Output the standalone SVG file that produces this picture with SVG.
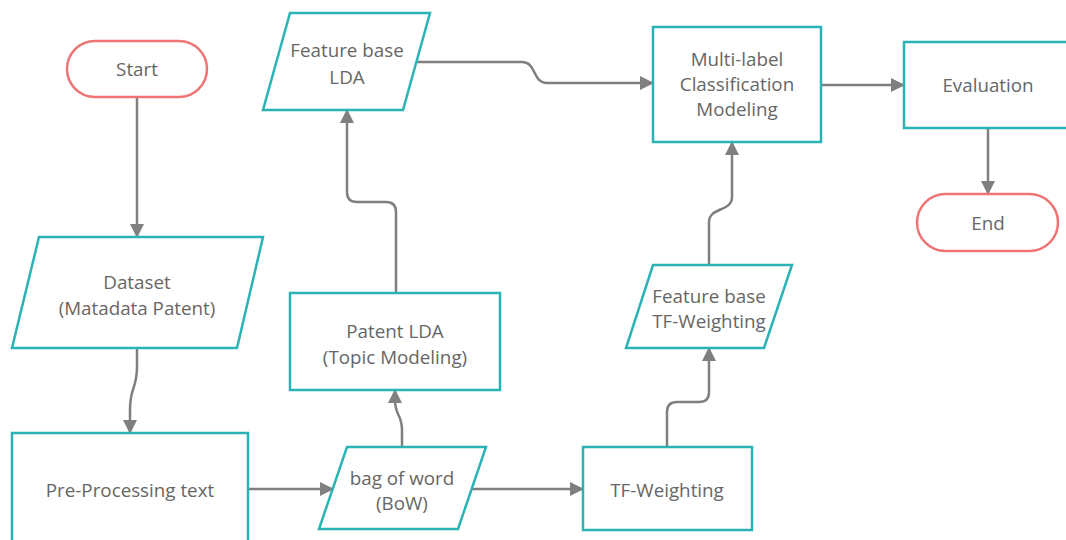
<svg xmlns="http://www.w3.org/2000/svg" width="1066" height="540" viewBox="0 0 1066 540">
<defs>
<style>
.box{fill:#fff;stroke:#2ab3b5;stroke-width:2.5}
.pill{fill:#fff;stroke:#ef7474;stroke-width:2.5}
.t{font-family:"Open Sans","Liberation Sans",sans-serif;font-size:18.8px;fill:#666;text-anchor:middle;dominant-baseline:central}
.c{fill:none;stroke:#7f7f7f;stroke-width:2.5}
</style>
<marker id="ah" markerUnits="userSpaceOnUse" markerWidth="14" markerHeight="14" refX="13" refY="7" orient="auto">
<path d="M0,0 L14,7 L0,14 z" fill="#7f7f7f"/>
</marker>
</defs>
<rect width="1066" height="540" fill="#fff"/>
<g id="connectors">
<path class="c" d="M137,97 V237" marker-end="url(#ah)"/>
<path class="c" d="M137,348 V366 C137,390 130,386 130,410 V433" marker-end="url(#ah)"/>
<path class="c" d="M248,489 H333" marker-end="url(#ah)"/>
<path class="c" d="M472,489 H583" marker-end="url(#ah)"/>
<path class="c" d="M402,447 V430 C402,414 395,416 395,400 V390" marker-end="url(#ah)"/>
<path class="c" d="M396,293 V212 Q396,202 386,202 H357 Q347,202 347,192 V110" marker-end="url(#ah)"/>
<path class="c" d="M417,62 H522 C537,62 532,83 547,83 H653" marker-end="url(#ah)"/>
<path class="c" d="M667,447 V412 Q667,402 677,402 H699 Q709,402 709,392 V348" marker-end="url(#ah)"/>
<path class="c" d="M709,265 V222 C709,207 732,212 732,197 V142" marker-end="url(#ah)"/>
<path class="c" d="M821,85 H904" marker-end="url(#ah)"/>
<path class="c" d="M988,128 V194" marker-end="url(#ah)"/>
</g>
<g id="start">
<rect class="pill" x="67" y="41" width="140" height="56" rx="28"/>
<text class="t" x="137" y="69">Start</text>
</g>
<g id="dataset">
<polygon class="box" points="39,237 263,237 237,348 12,348"/>
<text class="t" x="137" y="282">Dataset</text>
<text class="t" x="137" y="308">(Matadata Patent)</text>
</g>
<g id="preprocessing">
<rect class="box" x="12" y="433" width="236" height="120"/>
<text class="t" x="130" y="490">Pre-Processing text</text>
</g>
<g id="bow">
<polygon class="box" points="347,447 486,447 458,529 319,529"/>
<text class="t" x="402" y="478">bag of word</text>
<text class="t" x="402" y="503">(BoW)</text>
</g>
<g id="patentlda">
<rect class="box" x="290" y="293" width="210" height="97"/>
<text class="t" x="395" y="331">Patent LDA</text>
<text class="t" x="395" y="357">(Topic Modeling)</text>
</g>
<g id="featurelda">
<polygon class="box" points="290,13 430,13 403,110 263,110"/>
<text class="t" x="347" y="50">Feature base</text>
<text class="t" x="347" y="77">LDA</text>
</g>
<g id="tfweighting">
<rect class="box" x="583" y="447" width="169" height="83"/>
<text class="t" x="667" y="490">TF-Weighting</text>
</g>
<g id="featuretf">
<polygon class="box" points="653,265 792,265 764,348 626,348"/>
<text class="t" x="709" y="296">Feature base</text>
<text class="t" x="709" y="321">TF-Weighting</text>
</g>
<g id="multilabel">
<rect class="box" x="653" y="27" width="168" height="115"/>
<text class="t" x="737" y="59">Multi-label</text>
<text class="t" x="737" y="84">Classification</text>
<text class="t" x="737" y="109">Modeling</text>
</g>
<g id="evaluation">
<rect class="box" x="904" y="42" width="168" height="86"/>
<text class="t" x="988" y="85">Evaluation</text>
</g>
<g id="end">
<rect class="pill" x="917" y="194" width="141" height="57" rx="28.5"/>
<text class="t" x="988" y="223">End</text>
</g>
</svg>
